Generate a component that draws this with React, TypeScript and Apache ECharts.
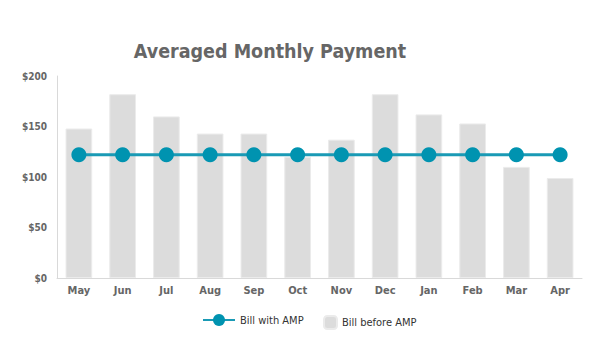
import React, { useEffect, useRef } from "react";
import * as echarts from "echarts";

const months = ["May", "Jun", "Jul", "Aug", "Sep", "Oct", "Nov", "Dec", "Jan", "Feb", "Mar", "Apr"];
const billBefore = [148, 182, 160, 143, 143, 120, 137, 182, 162, 153, 110, 99];
const billWith = [122, 122, 122, 122, 122, 122, 122, 122, 122, 122, 122, 122];
const yTicks = { min: 0, max: 200, interval: 50 };

const FONT = "'DejaVu Sans Condensed', 'DejaVu Sans', sans-serif";

export default function App() {
  const ref = useRef<HTMLDivElement>(null);
  useEffect(() => {
    if (!ref.current) return;
    const chart = echarts.init(ref.current, undefined, { renderer: "svg" });
    chart.setOption({
      animation: false,
      backgroundColor: "#ffffff",
      title: {
        text: "Averaged Monthly Payment",
        left: 265,
        textAlign: "center",
        top: 36,
        textStyle: { fontFamily: FONT, fontWeight: "bold", fontSize: 19.5, color: "#666666" },
      },
      legend: [
        {
          data: ["Bill with AMP"],
          left: 197,
          top: 309,
          itemWidth: 32,
          itemHeight: 15,
          textStyle: { fontFamily: FONT, fontSize: 11, color: "#333333" },
        },
        {
          data: ["Bill before AMP"],
          left: 318,
          top: 310,
          itemWidth: 13,
          itemHeight: 13,
          textStyle: { fontFamily: FONT, fontSize: 11, color: "#333333" },
        },
      ],
      grid: { left: 57, right: 18, top: 76, bottom: 68 },
      xAxis: {
        type: "category",
        data: months,
        axisLine: { lineStyle: { color: "#d9d9d9", width: 1 } },
        axisTick: { show: false },
        axisLabel: { fontFamily: FONT, fontWeight: "bold", fontSize: 11, color: "#666666", margin: 7 },
      },
      yAxis: {
        type: "value",
        min: yTicks.min,
        max: yTicks.max,
        interval: yTicks.interval,
        axisLine: { show: true, lineStyle: { color: "#d9d9d9", width: 1 } },
        axisTick: { show: false },
        splitLine: { show: false },
        axisLabel: {
          fontFamily: FONT,
          fontWeight: "bold",
          fontSize: 10,
          color: "#666666",
          margin: 10,
          formatter: (v: number) => "$" + v,
        },
      },
      series: [
        {
          name: "Bill before AMP",
          type: "bar",
          data: billBefore,
          barWidth: "61%",
          itemStyle: { color: "#dcdcdc", borderColor: "#ebebeb", borderWidth: 1 },
          z: 1,
        },
        {
          name: "Bill with AMP",
          type: "line",
          data: billWith,
          symbol: "circle",
          symbolSize: 15,
          lineStyle: { color: "#1a9ab5", width: 3 },
          itemStyle: { color: "#0093b0" },
          z: 3,
        },
      ],
    });
    return () => chart.dispose();
  }, []);
  return (
    <div
      ref={ref}
      style={{ position: "absolute", left: 0, top: 0, width: 600, height: 346 }}
    />
  );
}
